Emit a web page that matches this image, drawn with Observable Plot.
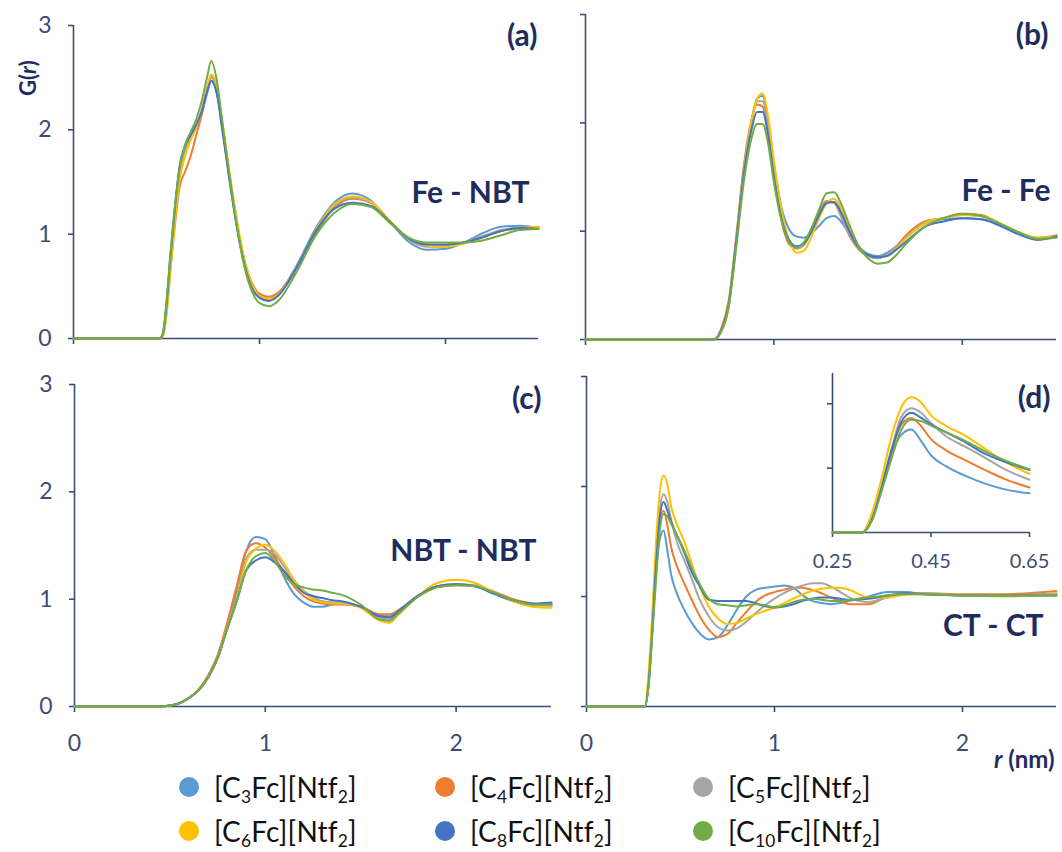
<!DOCTYPE html>
<html><head><meta charset="utf-8">
<script src="https://cdn.jsdelivr.net/npm/d3@7"></script>
<script src="https://cdn.jsdelivr.net/npm/@observablehq/plot@0.6"></script>
<style>
body{margin:0;background:#fff;font-family:Lato,"Open Sans",sans-serif}
#root{position:relative;width:1062px;height:852px;overflow:hidden;background:#fff}
.leg{position:absolute;display:flex;align-items:center;font-size:28px;color:#111;white-space:nowrap;letter-spacing:0.2px}
.dot{width:20px;height:20px;border-radius:50%;display:inline-block;margin-right:15px;margin-left:-10px}
sub{font-size:0.62em;vertical-align:-0.28em;line-height:0}
.ylab{position:absolute;font-weight:bold;font-size:22px;color:#1F2D5E;transform:translate(-50%,-50%) rotate(-90deg);white-space:nowrap}
.xlab{position:absolute;font-weight:bold;font-size:24px;color:#1F2D5E;white-space:nowrap}
</style>
</head><body><div id="root"></div>
<script>
// ---- series ----
const seriesKeys = ["C3", "C4", "C5", "C6", "C8", "C10"];
const seriesLabels = ["[C<sub>3</sub>Fc][Ntf<sub>2</sub>]", "[C<sub>4</sub>Fc][Ntf<sub>2</sub>]", "[C<sub>5</sub>Fc][Ntf<sub>2</sub>]",
                      "[C<sub>6</sub>Fc][Ntf<sub>2</sub>]", "[C<sub>8</sub>Fc][Ntf<sub>2</sub>]", "[C<sub>10</sub>Fc][Ntf<sub>2</sub>]"];
const seriesColors = ["#5B9BD5", "#ED7D31", "#A5A5A5", "#FFC000", "#4472C4", "#70AD47"];

// ---- (a) Fe - NBT ----
const rA = [0, 0.46, 0.48, 0.50, 0.52, 0.54, 0.57, 0.60, 0.63, 0.66, 0.69, 0.72, 0.74, 0.77, 0.80, 0.84, 0.88, 0.92, 0.96, 1.00, 1.05, 1.10, 1.20, 1.30, 1.40, 1.50, 1.60, 1.70, 1.80, 1.90, 2.00, 2.10, 2.20, 2.30, 2.40, 2.50];
const feNbtC3  = [0, 0, 0.04, 0.32, 0.75, 1.15, 1.62, 1.82, 1.93, 2.03, 2.16, 2.36, 2.47, 2.36, 2.02, 1.52, 1.06, 0.70, 0.50, 0.41, 0.38, 0.43, 0.70, 1.05, 1.30, 1.39, 1.32, 1.12, 0.93, 0.85, 0.86, 0.92, 1.01, 1.07, 1.08, 1.06];
const feNbtC4  = [0, 0, 0.03, 0.25, 0.65, 1.00, 1.45, 1.60, 1.75, 1.95, 2.15, 2.40, 2.52, 2.38, 2.03, 1.55, 1.10, 0.74, 0.53, 0.43, 0.40, 0.44, 0.68, 1.00, 1.25, 1.34, 1.30, 1.13, 0.96, 0.90, 0.89, 0.92, 0.98, 1.03, 1.06, 1.07];
const feNbtC5  = [0, 0, 0.04, 0.30, 0.72, 1.10, 1.58, 1.80, 1.92, 2.03, 2.18, 2.40, 2.50, 2.38, 2.03, 1.53, 1.08, 0.72, 0.50, 0.40, 0.37, 0.42, 0.68, 1.02, 1.27, 1.35, 1.30, 1.12, 0.95, 0.88, 0.88, 0.92, 0.98, 1.04, 1.06, 1.06];
const feNbtC6  = [0, 0, 0.02, 0.22, 0.62, 1.02, 1.52, 1.75, 1.90, 2.03, 2.20, 2.42, 2.53, 2.42, 2.08, 1.58, 1.12, 0.75, 0.52, 0.41, 0.38, 0.42, 0.68, 1.03, 1.28, 1.36, 1.31, 1.13, 0.96, 0.89, 0.88, 0.91, 0.97, 1.03, 1.06, 1.07];
const feNbtC8  = [0, 0, 0.04, 0.32, 0.76, 1.15, 1.65, 1.85, 1.95, 2.05, 2.18, 2.38, 2.47, 2.35, 2.00, 1.50, 1.05, 0.70, 0.48, 0.39, 0.36, 0.41, 0.68, 1.02, 1.24, 1.30, 1.27, 1.12, 0.96, 0.90, 0.90, 0.92, 0.97, 1.03, 1.06, 1.05];
const feNbtC10 = [0, 0, 0.05, 0.36, 0.80, 1.18, 1.62, 1.86, 1.98, 2.10, 2.28, 2.52, 2.66, 2.48, 2.08, 1.55, 1.06, 0.68, 0.45, 0.34, 0.31, 0.36, 0.64, 0.98, 1.20, 1.29, 1.26, 1.11, 0.97, 0.92, 0.92, 0.92, 0.94, 0.99, 1.04, 1.05];

// ---- (b) Fe - Fe ----
const rB = [0, 0.68, 0.72, 0.76, 0.80, 0.84, 0.88, 0.91, 0.94, 0.97, 1.00, 1.04, 1.08, 1.12, 1.16, 1.20, 1.24, 1.28, 1.32, 1.36, 1.40, 1.45, 1.50, 1.55, 1.60, 1.65, 1.70, 1.80, 1.90, 2.00, 2.10, 2.20, 2.30, 2.40, 2.50];
const feFeC3  = [0, 0, 0.08, 0.32, 0.90, 1.55, 2.00, 2.22, 2.25, 2.00, 1.62, 1.22, 1.02, 0.95, 0.94, 0.98, 1.05, 1.12, 1.14, 1.08, 0.98, 0.86, 0.79, 0.77, 0.80, 0.86, 0.94, 1.07, 1.11, 1.12, 1.11, 1.06, 0.98, 0.92, 0.96];
const feFeC4  = [0, 0, 0.10, 0.36, 0.95, 1.60, 2.02, 2.17, 2.15, 1.90, 1.50, 1.10, 0.88, 0.84, 0.88, 1.02, 1.18, 1.28, 1.26, 1.12, 0.96, 0.83, 0.77, 0.75, 0.78, 0.86, 0.96, 1.09, 1.12, 1.16, 1.15, 1.07, 0.98, 0.94, 0.96];
const feFeC5  = [0, 0, 0.08, 0.33, 0.92, 1.57, 2.00, 2.20, 2.20, 1.95, 1.55, 1.14, 0.90, 0.84, 0.87, 1.00, 1.16, 1.27, 1.26, 1.13, 0.97, 0.84, 0.77, 0.75, 0.78, 0.85, 0.94, 1.08, 1.12, 1.15, 1.14, 1.07, 0.98, 0.93, 0.95];
const feFeC6  = [0, 0, 0.07, 0.30, 0.88, 1.52, 2.00, 2.22, 2.27, 2.05, 1.65, 1.20, 0.92, 0.80, 0.82, 0.95, 1.12, 1.26, 1.30, 1.20, 1.03, 0.86, 0.78, 0.76, 0.77, 0.84, 0.93, 1.07, 1.12, 1.15, 1.14, 1.07, 0.99, 0.94, 0.95];
const feFeC8  = [0, 0, 0.08, 0.32, 0.90, 1.52, 1.93, 2.10, 2.10, 1.88, 1.50, 1.12, 0.92, 0.86, 0.89, 1.00, 1.15, 1.26, 1.27, 1.16, 1.00, 0.85, 0.78, 0.76, 0.77, 0.83, 0.90, 1.04, 1.09, 1.12, 1.11, 1.05, 0.97, 0.92, 0.95];
const feFeC10 = [0, 0, 0.07, 0.30, 0.85, 1.45, 1.85, 1.99, 1.99, 1.80, 1.45, 1.10, 0.90, 0.85, 0.90, 1.03, 1.20, 1.35, 1.36, 1.24, 1.06, 0.86, 0.75, 0.70, 0.71, 0.78, 0.88, 1.04, 1.12, 1.16, 1.14, 1.07, 0.99, 0.93, 0.94];

// ---- (c) NBT - NBT ----
const rC = [0, 0.45, 0.50, 0.55, 0.60, 0.65, 0.70, 0.75, 0.80, 0.85, 0.90, 0.95, 1.00, 1.05, 1.10, 1.15, 1.20, 1.25, 1.30, 1.35, 1.40, 1.50, 1.60, 1.65, 1.70, 1.80, 1.90, 2.00, 2.10, 2.20, 2.30, 2.40, 2.50];
const nbtC3  = [0, 0, 0.01, 0.03, 0.08, 0.15, 0.27, 0.45, 0.74, 1.08, 1.45, 1.58, 1.56, 1.40, 1.20, 1.05, 0.97, 0.93, 0.93, 0.95, 0.96, 0.93, 0.85, 0.84, 0.90, 1.03, 1.12, 1.14, 1.12, 1.05, 0.98, 0.95, 0.96];
const nbtC4  = [0, 0, 0.01, 0.03, 0.08, 0.16, 0.29, 0.48, 0.78, 1.12, 1.45, 1.52, 1.48, 1.38, 1.25, 1.12, 1.03, 0.98, 0.96, 0.95, 0.95, 0.93, 0.86, 0.86, 0.90, 1.03, 1.11, 1.13, 1.12, 1.07, 1.00, 0.96, 0.94];
const nbtC5  = [0, 0, 0.01, 0.03, 0.08, 0.15, 0.27, 0.45, 0.74, 1.02, 1.38, 1.46, 1.46, 1.42, 1.30, 1.18, 1.08, 1.02, 0.98, 0.97, 0.96, 0.93, 0.83, 0.81, 0.88, 1.03, 1.12, 1.14, 1.13, 1.06, 0.99, 0.95, 0.94];
const nbtC6  = [0, 0, 0.01, 0.03, 0.08, 0.15, 0.27, 0.45, 0.73, 1.00, 1.35, 1.47, 1.51, 1.45, 1.33, 1.18, 1.07, 1.00, 0.97, 0.96, 0.96, 0.92, 0.80, 0.78, 0.86, 1.03, 1.15, 1.18, 1.15, 1.06, 0.98, 0.93, 0.92];
const nbtC8  = [0, 0, 0.01, 0.03, 0.08, 0.15, 0.27, 0.45, 0.72, 0.98, 1.27, 1.36, 1.39, 1.34, 1.26, 1.15, 1.06, 1.03, 1.01, 0.99, 0.98, 0.93, 0.84, 0.83, 0.89, 1.03, 1.12, 1.14, 1.12, 1.05, 0.99, 0.96, 0.97];
const nbtC10 = [0, 0, 0.01, 0.03, 0.08, 0.15, 0.27, 0.45, 0.72, 0.98, 1.27, 1.40, 1.43, 1.35, 1.22, 1.14, 1.11, 1.09, 1.08, 1.06, 1.04, 0.95, 0.81, 0.80, 0.87, 1.02, 1.11, 1.13, 1.12, 1.06, 0.99, 0.95, 0.95];

// ---- (d) CT - CT ----
const rD = [0, 0.25, 0.31, 0.33, 0.35, 0.37, 0.39, 0.41, 0.43, 0.45, 0.48, 0.52, 0.56, 0.60, 0.65, 0.70, 0.75, 0.80, 0.85, 0.90, 0.95, 1.00, 1.05, 1.10, 1.15, 1.20, 1.25, 1.30, 1.35, 1.40, 1.50, 1.60, 1.70, 1.80, 2.00, 2.20, 2.50];
const ctC3  = [0, 0, 0, 0.20, 0.70, 1.22, 1.52, 1.60, 1.42, 1.20, 1.03, 0.88, 0.76, 0.67, 0.61, 0.63, 0.74, 0.88, 1.00, 1.06, 1.08, 1.09, 1.10, 1.08, 1.01, 0.96, 0.94, 0.93, 0.94, 0.96, 1.00, 1.04, 1.04, 1.02, 1.01, 1.01, 1.02];
const ctC4  = [0, 0, 0, 0.20, 0.70, 1.25, 1.68, 1.78, 1.65, 1.45, 1.28, 1.12, 0.97, 0.83, 0.70, 0.63, 0.66, 0.76, 0.86, 0.95, 1.01, 1.04, 1.06, 1.08, 1.08, 1.06, 1.03, 0.99, 0.96, 0.93, 0.93, 1.00, 1.03, 1.03, 1.02, 1.02, 1.05];
const ctC5  = [0, 0, 0, 0.22, 0.75, 1.30, 1.80, 1.93, 1.86, 1.70, 1.50, 1.33, 1.16, 0.98, 0.82, 0.72, 0.69, 0.71, 0.77, 0.85, 0.92, 0.98, 1.03, 1.07, 1.10, 1.12, 1.12, 1.09, 1.04, 0.99, 0.95, 0.99, 1.02, 1.03, 1.01, 1.01, 1.03];
const ctC6  = [0, 0, 0, 0.30, 0.85, 1.50, 1.95, 2.10, 2.02, 1.82, 1.66, 1.50, 1.30, 1.10, 0.91, 0.80, 0.75, 0.76, 0.80, 0.84, 0.87, 0.90, 0.94, 0.98, 1.02, 1.05, 1.07, 1.08, 1.08, 1.06, 0.99, 0.99, 1.02, 1.02, 1.01, 1.00, 1.02];
const ctC8  = [0, 0, 0, 0.20, 0.70, 1.28, 1.72, 1.86, 1.78, 1.68, 1.56, 1.40, 1.22, 1.10, 0.97, 0.96, 0.96, 0.96, 0.96, 0.94, 0.91, 0.90, 0.91, 0.93, 0.96, 0.98, 0.99, 0.99, 0.98, 0.97, 0.98, 1.01, 1.03, 1.02, 1.01, 1.01, 1.01];
const ctC10 = [0, 0, 0, 0.18, 0.65, 1.15, 1.60, 1.75, 1.73, 1.66, 1.56, 1.42, 1.26, 1.12, 0.98, 0.93, 0.92, 0.91, 0.92, 0.93, 0.92, 0.90, 0.92, 0.95, 0.97, 0.98, 0.97, 0.96, 0.96, 0.97, 0.99, 1.01, 1.02, 1.02, 1.01, 1.01, 1.01];

// ---- ticks ----
const xTicks = [0, 1, 2];
const yTicks = [0, 1, 2, 3];
const insetXTicks = [0.25, 0.45, 0.65];
const insetYTicks = [1, 2];

function rows(rs, lists) {
  const out = [];
  lists.forEach((vals, i) => vals.forEach((g, j) => out.push({r: rs[j], g, s: seriesKeys[i]})));
  return out;
}
const dataA = rows(rA, [feNbtC3, feNbtC4, feNbtC5, feNbtC6, feNbtC8, feNbtC10]);
const dataB = rows(rB, [feFeC3, feFeC4, feFeC5, feFeC6, feFeC8, feFeC10]);
const dataC = rows(rC, [nbtC3, nbtC4, nbtC5, nbtC6, nbtC8, nbtC10]);
const dataD = rows(rD, [ctC3, ctC4, ctC5, ctC6, ctC8, ctC10]);

const axisColor = "#3D4B78";
const labelColor = "#1F2D5E";
const root = document.getElementById("root");

function panel(o) {
  const marks = [
    Plot.ruleY([o.yDomain[0]], {stroke: axisColor, strokeWidth: 1.6}),
    Plot.ruleX([o.xDomain[0]], {stroke: axisColor, strokeWidth: 1.6}),
    Plot.axisX(o.xTicks, {tickSize: o.tickSize ?? 6, tickPadding: o.xPad ?? 22, fontSize: o.fontSize ?? 23,
      strokeWidth: 1.6, color: axisColor, label: null,
      tickFormat: o.xLabels ? (o.xFormat ?? (d => d)) : () => ""}),
    Plot.axisY(o.yTicks, {tickSize: 5, tickPadding: 17, fontSize: o.fontSize ?? 23,
      strokeWidth: 1.6, color: axisColor, label: null,
      tickFormat: o.yLabels ? (d => d) : () => ""}),
    Plot.line(o.data, {x: "r", y: "g", z: "s", stroke: "s", curve: "monotone-x", strokeWidth: 2})
  ];
  (o.texts || []).forEach(t => marks.push(Plot.text([t.text], {
    text: d => d, frameAnchor: "top-right", textAnchor: "end", lineAnchor: "middle",
    dx: t.dx, dy: t.dy, fontSize: 30, fontWeight: "bold", fill: labelColor
  })));
  const svg = Plot.plot({
    width: o.width, height: o.height,
    marginLeft: o.ml, marginRight: o.mr, marginTop: o.mt, marginBottom: o.mb,
    x: {domain: o.xDomain}, y: {domain: o.yDomain},
    color: {domain: seriesKeys, range: seriesColors},
    style: {background: "transparent", fontFamily: "Lato, 'Open Sans', sans-serif", position: "absolute",
            left: o.left + "px", top: o.top + "px", overflow: "visible", maxWidth: "none"},
    marks
  });
  root.appendChild(svg);
}

panel({data: dataA, left: 0, top: 0, width: 560, height: 360, ml: 73, mr: 22, mt: 25, mb: 22,
  xDomain: [0, 2.5], yDomain: [0, 3], xTicks, yTicks, xLabels: false, yLabels: true,
  texts: [{text: "(a)", dx: -1, dy: 11}, {text: "Fe - NBT", dx: -9, dy: 168}]});
panel({data: dataB, left: 540, top: 0, width: 522, height: 360, ml: 45, mr: 6, mt: 14, mb: 21,
  xDomain: [0, 2.5], yDomain: [0, 3], xTicks, yTicks, xLabels: false, yLabels: false,
  texts: [{text: "(b)", dx: -8, dy: 21}, {text: "Fe - Fe", dx: -6, dy: 177}]});
panel({data: dataC, left: 0, top: 360, width: 570, height: 410, ml: 74, mr: 19, mt: 24, mb: 64,
  xDomain: [0, 2.5], yDomain: [0, 3], xTicks, yTicks, xLabels: true, yLabels: true,
  texts: [{text: "(c)", dx: -10, dy: 15}, {text: "NBT - NBT", dx: -15, dy: 167}]});
panel({data: dataD, left: 540, top: 360, width: 522, height: 410, ml: 46, mr: 6, mt: 16, mb: 64,
  xDomain: [0, 2.5], yDomain: [0, 3], xTicks, yTicks, xLabels: true, yLabels: false,
  texts: [{text: "(d)", dx: -6, dy: 22}, {text: "CT - CT", dx: -13, dy: 250}]});
panel({data: dataD.filter(d => d.r >= 0.25 && d.r <= 0.65), left: 770, top: 360, width: 292, height: 215,
  ml: 62, mr: 33, mt: 13, mb: 43, xDomain: [0.25, 0.65], yDomain: [0, 2.47],
  xTicks: insetXTicks, yTicks: insetYTicks, xLabels: true, yLabels: false, fontSize: 20, tickSize: 5, xPad: 16,
  xFormat: d3.format(".2f")});

// axis titles
const yl = document.createElement("div");
yl.className = "ylab"; yl.style.left = "27px"; yl.style.top = "78px";
yl.innerHTML = "G(<i>r</i>)";
root.appendChild(yl);
const xl = document.createElement("div");
xl.className = "xlab"; xl.style.left = "994px"; xl.style.top = "744px";
xl.innerHTML = "<i>r</i> (nm)";
root.appendChild(xl);

// legend
const legX = [189, 445, 703];
const legY = [787, 831];
seriesKeys.forEach((k, i) => {
  const d = document.createElement("div");
  d.className = "leg";
  d.style.left = legX[i % 3] + "px";
  d.style.top = (legY[Math.floor(i / 3)] - 17) + "px";
  d.style.height = "34px";
  d.innerHTML = `<span class="dot" style="background:${seriesColors[i]}"></span><span>${seriesLabels[i]}</span>`;
  root.appendChild(d);
});
</script>
</body></html>
